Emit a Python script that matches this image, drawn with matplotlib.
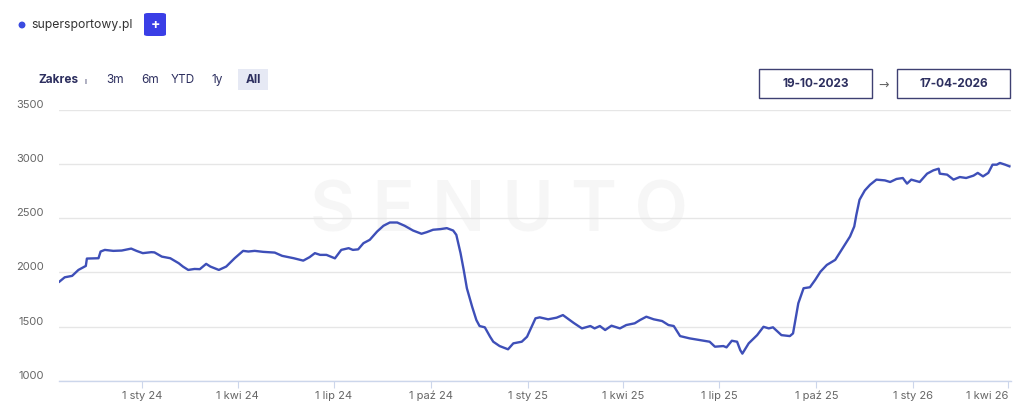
import numpy as np
import matplotlib
matplotlib.use("Agg")
import matplotlib.pyplot as plt
import matplotlib.dates as mdates
from matplotlib.patches import FancyBboxPatch, Rectangle, Ellipse

plt.rcParams['font.family'] = ['Inter', 'DejaVu Sans']

# data: days after 2023-10-19 and visibility values
start = np.datetime64('2023-10-19')
day_offsets = [
    -4, 1, 8, 14, 20, 21, 22, 33, 35, 39, 47, 55, 64, 69, 75, 83, 86, 93,
    101, 109, 113, 118, 124, 129, 135, 139, 147, 154, 162, 170, 175, 181,
    189, 200, 207, 218, 227, 233, 238, 243, 249, 257, 263, 270, 274, 279,
    284, 290, 297, 303, 309, 316, 323, 331, 339, 344, 350, 357, 363, 369,
    372, 376, 379, 382, 387, 391, 394, 399, 404, 407, 413, 421, 426, 434,
    439, 447, 451, 459, 467, 473, 483, 491, 499, 503, 508, 513, 519, 527,
    533, 541, 546, 552, 559, 567, 573, 578, 584, 593, 603, 612, 617, 625,
    628, 633, 638, 641, 643, 649, 657, 663, 668, 672, 680, 688, 691, 696,
    701, 707, 712, 717, 723, 731, 735, 740, 745, 749, 751, 754, 759, 764,
    770, 778, 783, 789, 795, 799, 803, 811, 818, 824, 829, 830, 837, 843,
    849, 855, 862, 866, 871, 876, 880, 884, 887, 892, 896,
]
visibility = [
    1915, 1955, 1968, 2023, 2054, 2060, 2128, 2131, 2193, 2208, 2199, 2202,
    2220, 2199, 2178, 2187, 2185, 2146, 2131, 2085, 2054, 2023, 2032, 2030,
    2079, 2054, 2023, 2054, 2131, 2199, 2193, 2199, 2190, 2183, 2153, 2131,
    2109, 2141, 2178, 2162, 2162, 2130, 2208, 2224, 2208, 2213, 2270, 2301,
    2378, 2431, 2461, 2461, 2431, 2387, 2357, 2372, 2394, 2400, 2409, 2387,
    2347, 2178, 2023, 1854, 1683, 1560, 1505, 1493, 1406, 1360, 1320, 1290,
    1345, 1360, 1406, 1576, 1585, 1567, 1582, 1606, 1535, 1483, 1505, 1483,
    1505, 1468, 1508, 1483, 1514, 1530, 1560, 1591, 1567, 1551, 1514, 1505,
    1412, 1391, 1375, 1360, 1314, 1320, 1308, 1369, 1360, 1282, 1250, 1345,
    1421, 1498, 1483, 1493, 1421, 1412, 1437, 1715, 1854, 1863, 1931, 2007,
    2069, 2116, 2178, 2255, 2332, 2424, 2532, 2671, 2757, 2810, 2857, 2850,
    2835, 2863, 2872, 2820, 2857, 2835, 2912, 2943, 2958, 2912, 2903, 2857,
    2881, 2872, 2894, 2919, 2887, 2919, 2995, 2995, 3011, 2995, 2980,
]
y_ticks = [1000, 1500, 2000, 2500, 3000, 3500]
pl_months = ['sty', 'lut', 'mar', 'kwi', 'maj', 'cze',
             'lip', 'sie', 'wrz', 'paź', 'lis', 'gru']
range_buttons = ['3m', '6m', 'YTD', '1y', 'All']
date_from = '19-10-2023'
date_to = '17-04-2026'
domain = 'supersportowy.pl'

W, H = 1024, 417
fig = plt.figure(figsize=(W / 100, H / 100), dpi=100)
fig.patch.set_facecolor('white')


def fx(px):
    return px / W


def fy(py):
    return 1 - py / H


ax = fig.add_axes([fx(59), fy(380.7), fx(1011 - 59), (380.7 - 110) / H])

dates = start + np.array(day_offsets).astype('timedelta64[D]')
dates = dates.astype('datetime64[ms]').astype(object)

# watermark
ax.text(0.462, 0.62, 'S E N U T O', transform=ax.transAxes, ha='center',
        va='center', fontsize=50, fontweight='semibold', color='#f6f6f6',
        zorder=0)

ax.plot(dates, visibility, color='#3e4fb8', lw=1.7, zorder=3)

ax.set_ylim(1000, 3500)
ax.set_xlim(start - np.timedelta64(4, 'D') - np.timedelta64(10, 'h'),
            start + np.timedelta64(897, 'D') + np.timedelta64(12, 'h'))
ax.set_yticks(y_ticks)
ax.yaxis.set_tick_params(length=0, labelleft=False)
ax.grid(axis='y', color='#e6e6e6', lw=1)
ax.set_axisbelow(True)
for s in ['top', 'right', 'left']:
    ax.spines[s].set_visible(False)
ax.spines['bottom'].set_color('#ccd6eb')
ax.spines['bottom'].set_linewidth(1)

# y labels sit a little above their grid lines
for v in y_ticks:
    ax.annotate(str(v), xy=(0, v), xycoords=('axes fraction', 'data'),
                xytext=(-15, 5), textcoords='offset pixels', ha='right',
                va='center', fontsize=8, color='#666666')

ax.xaxis.set_major_locator(mdates.MonthLocator(bymonth=[1, 4, 7, 10]))
ax.xaxis.set_major_formatter(plt.FuncFormatter(
    lambda x, pos: '1 %s %s' % (pl_months[mdates.num2date(x).month - 1],
                                mdates.num2date(x).strftime('%y'))))
ax.tick_params(axis='x', length=5, color='#ccd6eb', labelsize=8,
               labelcolor='#666666', pad=8)
fig.canvas.draw()
xlabels = ax.get_xticklabels()
for lab in xlabels:
    lab.set_verticalalignment('baseline')
# keep the last label inside the chart, like the reference
xlabels[-1].set_horizontalalignment('right')

# header: domain and plus button
fig.patches.append(Ellipse((fx(22), fy(25)), 5.5 / W, 5.5 / H,
                           color='#3b4be0', transform=fig.transFigure))
fig.text(fx(31), fy(25), domain, fontsize=8.8, color='#333333',
         va='center')
fig.patches.append(FancyBboxPatch((fx(144), fy(36)), fx(22), 23 / H,
                                  boxstyle='round,pad=0,rounding_size=0.004',
                                  transform=fig.transFigure,
                                  facecolor='#3a3ee6', edgecolor='none'))
fig.text(fx(155), fy(24.5), '+', fontsize=10, color='white',
         fontweight='bold', ha='center', va='center')

# range selector
navy = '#2d2f5f'
fig.text(fx(38), fy(80), 'Zakres', fontsize=8.5, color=navy,
         fontweight='bold', va='center')
fig.text(fx(84), fy(82), 'ı', fontsize=6, color=navy, va='center')
fig.patches.append(Rectangle((fx(238), fy(90)), fx(30), 21 / H,
                             transform=fig.transFigure,
                             facecolor='#e6e9f4', edgecolor='none'))
for label, px in zip(range_buttons, [115, 150, 183, 217, 253]):
    fig.text(fx(px), fy(80), label, fontsize=8.5, color=navy,
             ha='center', va='center',
             fontweight='bold' if label == 'All' else 'normal')

# date range boxes
for label, x0 in [(date_from, 759), (date_to, 897)]:
    fig.patches.append(Rectangle((fx(x0), fy(97.5)), fx(113), 28.5 / H,
                                 transform=fig.transFigure,
                                 facecolor='white', edgecolor='#3e4072',
                                 lw=1))
    fig.text(fx(x0 + 56.5), fy(84), label, fontsize=8.5, color=navy,
             fontweight='bold', ha='center', va='center')
fig.text(fx(884), fy(85), '→', fontsize=9, color='#666666',
         ha='center', va='center', family=['DejaVu Sans'])

fig.savefig('out.png', dpi=100, facecolor='white')
